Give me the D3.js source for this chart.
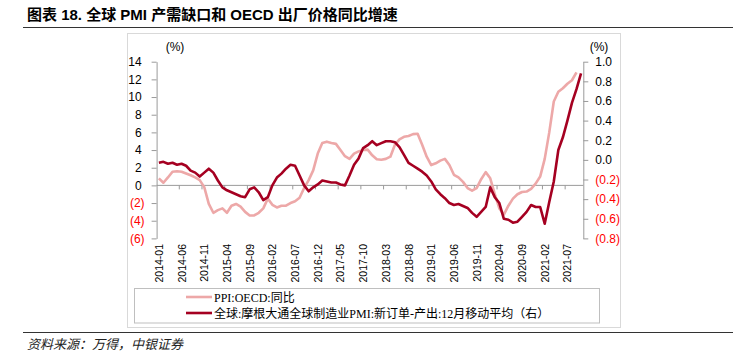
<!DOCTYPE html>
<html><head><meta charset="utf-8">
<script src="https://cdn.jsdelivr.net/npm/d3@7"></script>
<style>
body{margin:0;background:#fff;}
svg{display:block;}
</style></head>
<body>
<svg id="c" width="733" height="360"></svg>
<script>
// ---------- data ----------
const months = [
 "2014-01","2014-02","2014-03","2014-04","2014-05","2014-06","2014-07","2014-08","2014-09","2014-10","2014-11","2014-12",
 "2015-01","2015-02","2015-03","2015-04","2015-05","2015-06","2015-07","2015-08","2015-09","2015-10","2015-11","2015-12",
 "2016-01","2016-02","2016-03","2016-04","2016-05","2016-06","2016-07","2016-08","2016-09","2016-10","2016-11","2016-12",
 "2017-01","2017-02","2017-03","2017-04","2017-05","2017-06","2017-07","2017-08","2017-09","2017-10","2017-11","2017-12",
 "2018-01","2018-02","2018-03","2018-04","2018-05","2018-06","2018-07","2018-08","2018-09","2018-10","2018-11","2018-12",
 "2019-01","2019-02","2019-03","2019-04","2019-05","2019-06","2019-07","2019-08","2019-09","2019-10","2019-11","2019-12",
 "2020-01","2020-02","2020-03","2020-04","2020-05","2020-06","2020-07","2020-08","2020-09","2020-10","2020-11","2020-12",
 "2021-01","2021-02","2021-03","2021-04","2021-05","2021-06","2021-07","2021-08","2021-09","2021-10"
];
// PPI: OECD yoy (%), left axis, through 2021-09
const ppiOECD = [
 0.8,0.3,0.9,1.55,1.6,1.55,1.35,1.15,0.9,0.6,-0.2,-2.1,
 -3.1,-2.8,-2.6,-3.1,-2.3,-2.1,-2.4,-3.0,-3.4,-3.4,-3.1,-2.6,
 -1.5,-2.2,-2.5,-2.3,-2.3,-2.0,-1.8,-1.4,-0.3,0.6,1.7,3.6,
 4.8,4.95,4.8,4.7,4.0,3.3,3.0,3.6,3.85,4.0,4.05,3.4,
 2.95,2.9,3.0,3.25,4.6,5.2,5.5,5.6,5.8,5.85,4.6,3.25,
 2.3,2.5,2.8,3.0,2.3,1.2,0.9,0.4,-0.3,-0.6,-0.3,0.7,
 1.5,0.8,-1.0,-2.6,-3.3,-2.3,-1.5,-1.0,-0.75,-0.7,-0.4,0.2,
 1.0,3.0,6.0,9.5,10.6,11.0,11.5,11.9,12.8
];
// JPM global manufacturing PMI: new orders - output, 12M MA, right axis
const pmiGap = [
 -0.03,-0.02,-0.04,-0.03,-0.05,-0.04,-0.06,-0.11,-0.13,-0.17,-0.13,-0.09,
 -0.13,-0.21,-0.28,-0.31,-0.33,-0.35,-0.37,-0.38,-0.30,-0.28,-0.33,-0.41,
 -0.38,-0.26,-0.18,-0.14,-0.09,-0.05,-0.06,-0.16,-0.26,-0.32,-0.28,-0.25,
 -0.21,-0.22,-0.23,-0.23,-0.25,-0.26,-0.16,-0.05,0.015,0.12,0.15,0.19,
 0.15,0.17,0.19,0.19,0.18,0.13,0.05,-0.03,-0.06,-0.09,-0.12,-0.16,
 -0.22,-0.30,-0.35,-0.39,-0.44,-0.46,-0.45,-0.47,-0.49,-0.54,-0.58,-0.53,
 -0.48,-0.28,-0.38,-0.44,-0.60,-0.61,-0.64,-0.63,-0.58,-0.53,-0.46,-0.48,
 -0.48,-0.65,-0.43,-0.22,0.10,0.23,0.40,0.58,0.72,0.88
];
const leftTicks = [14,12,10,8,6,4,2,0,-2,-4,-6];
const rightTicks = [1.0,0.8,0.6,0.4,0.2,0.0,-0.2,-0.4,-0.6,-0.8];
const xLabelEvery = 5;
const title = "图表 18. 全球 PMI 产需缺口和 OECD 出厂价格同比增速";
const seriesNames = ["PPI:OECD:同比","全球:摩根大通全球制造业PMI:新订单-产出:12月移动平均（右）"];
const source = "资料来源：万得，中银证券";

// ---------- drawing ----------
const svg = d3.select("#c");
const SANS = "'Liberation Sans', Arial, 'Noto Sans CJK SC', sans-serif";
const CJK = "'Noto Sans CJK SC', 'Liberation Sans', sans-serif";
const SERIF = "'Liberation Serif', 'Times New Roman', 'Noto Sans CJK SC', serif";
const PINK = "#EDA8A8", DARK = "#A50021", AXIS = "#9A9A9A";

// title
svg.append("text").attr("x", 27).attr("y", 20)
  .attr("font-family", "'Liberation Sans','Noto Sans CJK SC',sans-serif")
  .attr("font-weight", "bold").attr("font-size", 15).attr("fill", "#000")
  .text(title);
svg.append("line").attr("x1", 23).attr("x2", 733).attr("y1", 27.5).attr("y2", 27.5)
  .attr("stroke", "#333").attr("stroke-width", 1);

// chart frame
svg.append("rect").attr("x", 127.5).attr("y", 33.5).attr("width", 493).attr("height", 294)
  .attr("fill", "none").attr("stroke", "#D9D9D9");

const x = d3.scaleBand().domain(months).range([156.6, 583.3]);
const yL = d3.scaleLinear().domain([-6, 14]).range([238.4, 61.7]);
const yR = d3.scaleLinear().domain([-0.8, 1.0]).range([238.4, 61.7]);

const fmtL = v => v < 0 ? "(" + Math.abs(v) + ")" : String(v);
const fmtR = v => v < -1e-9 ? "(" + Math.abs(v).toFixed(1) + ")" : Math.abs(v).toFixed(1);

// left axis
const gL = svg.append("g").attr("transform", "translate(156.6,0)")
  .call(d3.axisLeft(yL).tickValues(leftTicks).tickFormat(fmtL).tickSize(5).tickPadding(7).tickSizeOuter(0));
gL.select(".domain").attr("stroke", AXIS);
gL.selectAll(".tick line").attr("stroke", AXIS);
gL.selectAll(".tick text").attr("font-family", SANS).attr("font-size", 12)
  .attr("fill", d => d < 0 ? "#FF0000" : "#000")
  .attr("x", d => d < 0 ? -12 : -15);

// right axis
const gR = svg.append("g").attr("transform", "translate(583.3,0)")
  .call(d3.axisRight(yR).tickValues(rightTicks).tickFormat(fmtR).tickSize(5).tickPadding(7).tickSizeOuter(0));
gR.select(".domain").attr("stroke", AXIS);
gR.selectAll(".tick line").attr("stroke", AXIS);
gR.selectAll(".tick text").attr("font-family", SANS).attr("font-size", 12)
  .attr("fill", d => d < -1e-9 ? "#FF0000" : "#000");

// unit labels
svg.append("text").attr("x", 175).attr("y", 51).attr("text-anchor", "middle")
  .attr("font-family", SANS).attr("font-size", 12).text("(%)");
svg.append("text").attr("x", 599).attr("y", 51).attr("text-anchor", "middle")
  .attr("font-family", SANS).attr("font-size", 12).text("(%)");

// category axis along zero line of left axis
const y0 = yL(0);
const gX = svg.append("g");
gX.append("line").attr("x1", x.range()[0]).attr("x2", x.range()[1])
  .attr("y1", y0).attr("y2", y0).attr("stroke", AXIS);
const tickIdx = d3.range(xLabelEvery, months.length, xLabelEvery);
gX.selectAll("line.tk").data(tickIdx).join("line").attr("class", "tk")
  .attr("x1", i => x(months[i])).attr("x2", i => x(months[i]))
  .attr("y1", y0).attr("y2", y0 + 4).attr("stroke", AXIS);

// x labels (rotated)
const labelMonths = months.filter((m, i) => i % xLabelEvery === 0);
svg.append("g").selectAll("text").data(labelMonths).join("text")
  .attr("transform", m => `translate(${x(m) + x.bandwidth() / 2 + 4},244) rotate(-90)`)
  .attr("text-anchor", "end")
  .attr("font-family", SANS).attr("font-size", 10.5).attr("fill", "#000")
  .text(m => m);

// lines
const lineL = d3.line().x((d, i) => x(months[i]) + x.bandwidth() / 2).y(d => yL(d));
const lineR = d3.line().x((d, i) => x(months[i]) + x.bandwidth() / 2).y(d => yR(d));
svg.append("path").datum(ppiOECD).attr("d", lineL)
  .attr("fill", "none").attr("stroke", PINK).attr("stroke-width", 2.6).attr("stroke-linejoin", "round");
svg.append("path").datum(pmiGap).attr("d", lineR)
  .attr("fill", "none").attr("stroke", DARK).attr("stroke-width", 2.6).attr("stroke-linejoin", "round");

// legend
svg.append("rect").attr("x", 134.5).attr("y", 288.5).attr("width", 465).attr("height", 34.5)
  .attr("fill", "#fff").attr("stroke", "#BFBFBF");
const leg = svg.append("g");
const legColors = [PINK, DARK];
const legY = [297, 313];
seriesNames.forEach((n, i) => {
  leg.append("line").attr("x1", 186).attr("x2", 212).attr("y1", legY[i]).attr("y2", legY[i])
    .attr("stroke", legColors[i]).attr("stroke-width", 2.6);
  leg.append("text").attr("x", 214).attr("y", legY[i] + 4.5)
    .attr("font-family", SERIF).attr("font-size", 12).attr("fill", "#000").text(n);
});

// footer
svg.append("line").attr("x1", 23).attr("x2", 733).attr("y1", 332.5).attr("y2", 332.5)
  .attr("stroke", "#333").attr("stroke-width", 1);
svg.append("text").attr("x", 27).attr("y", 349)
  .attr("font-family", CJK).attr("font-size", 13).attr("font-style", "italic").attr("fill", "#222")
  .text(source);
</script>
</body></html>
